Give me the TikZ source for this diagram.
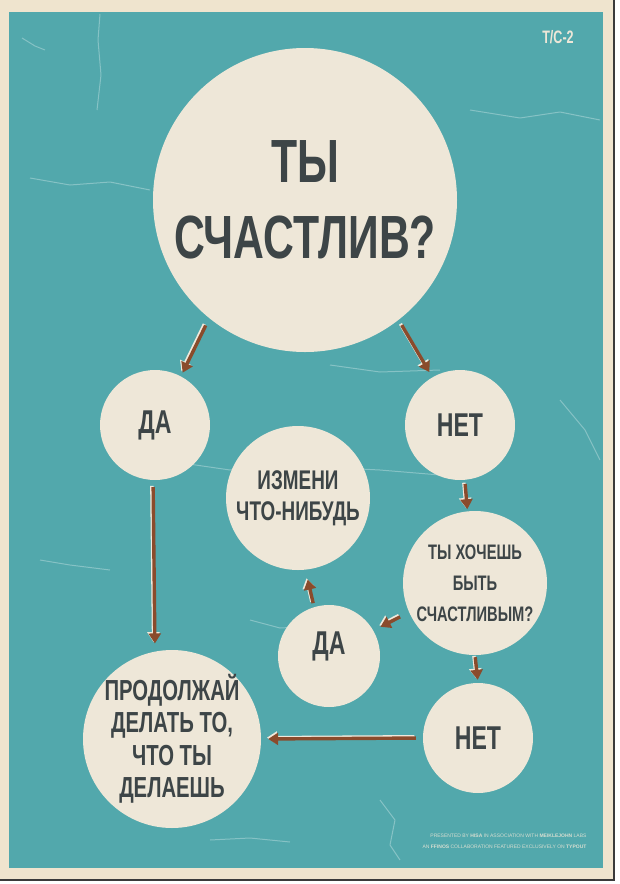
\documentclass[tikz,border=0pt]{standalone}
\usepackage{fontspec}
\setmainfont{Liberation Sans}
\newfontfamily\cond[FakeStretch=0.7]{Liberation Sans}
\usetikzlibrary{arrows.meta}
\definecolor{tealbg}{HTML}{52A8AC}
\definecolor{cream}{HTML}{EEE7D8}
\definecolor{paper}{HTML}{EFE4CE}
\definecolor{ink}{HTML}{3D4547}
\definecolor{rust}{HTML}{8A4B2C}
\definecolor{edge}{HTML}{3A3A3A}
\tikzset{
  bub/.style={circle, fill=cream, draw=none, inner sep=0pt},
  txt/.style={text=ink, align=center, inner sep=0pt},
  arr/.style={draw=rust, line width=3.4pt, -{Triangle[length=10pt,width=12pt]},
    preaction={draw=cream!90!white, line width=3.4pt, transform canvas={shift={(-1.3pt,1.3pt)}}}},
  crack/.style={draw=white, opacity=0.3, line width=1pt, line join=round},
}
\begin{document}
\begin{tikzpicture}[x=1pt,y=-1pt]
\useasboundingbox (0,0) rectangle (620,884);
\fill[white] (0,0) rectangle (620,884);
\fill[paper] (0,0) rectangle (614,879);
\draw[edge, line width=2pt] (614,0) -- (614,880) -- (0,880);
\fill[tealbg] (9,12) rectangle (603,868);

% faint cracks in the paper
\draw[crack] (100,14) -- (98,40) -- (101,75) -- (97,110);
\draw[crack] (22,38) -- (35,46) -- (45,50);
\draw[crack] (30,178) -- (70,185) -- (110,182) -- (150,190);
\draw[crack] (470,110) -- (520,118) -- (560,112) -- (600,120);
\draw[crack] (175,462) -- (230,470) -- (300,466) -- (380,470) -- (440,475);
\draw[crack] (40,560) -- (70,565) -- (110,570);
\draw[crack] (250,620) -- (280,628) -- (320,626);
\draw[crack] (330,365) -- (380,372) -- (440,370);
\draw[crack] (380,800) -- (395,820) -- (390,845) -- (400,860);
\draw[crack] (210,840) -- (250,838) -- (290,842);
\draw[crack] (560,400) -- (585,430) -- (600,460);

% circles
\node[bub, minimum size=304pt] (big) at (305,200) {};
\node[bub, minimum size=110pt] (da) at (155,425) {};
\node[bub, minimum size=110pt] (net1) at (460,425) {};
\node[bub, minimum size=144pt] (izm) at (298,498) {};
\node[bub, minimum size=144pt] (hoch) at (475,583) {};
\node[bub, minimum size=102pt] (da2) at (329,656) {};
\node[bub, minimum size=110pt] (net2) at (478,738) {};
\node[bub, minimum size=178pt] (prod) at (172,739) {};

% texts
\node[txt, font=\cond\bfseries\fontsize{61}{76}\selectfont] at (big) {ТЫ\\СЧАСТЛИВ?};
\node[txt, font=\cond\bfseries\fontsize{33}{36}\selectfont] at (da) {ДА};
\node[txt, font=\cond\bfseries\fontsize{33}{36}\selectfont] at (net1) {НЕТ};
\node[txt, font=\cond\bfseries\fontsize{27}{31}\selectfont] at (izm) {ИЗМЕНИ\\ЧТО-НИБУДЬ};
\node[txt, font=\cond\bfseries\fontsize{21}{31}\selectfont] at (hoch) {ТЫ ХОЧЕШЬ\\БЫТЬ\\СЧАСТЛИВЫМ?};
\node[txt, font=\cond\bfseries\fontsize{33}{36}\selectfont] at ([yshift=10pt]da2) {ДА};
\node[txt, font=\cond\bfseries\fontsize{33}{36}\selectfont] at (net2) {НЕТ};
\node[txt, font=\cond\bfseries\fontsize{29}{32.5}\selectfont] at (prod) {ПРОДОЛЖАЙ\\ДЕЛАТЬ ТО,\\ЧТО ТЫ\\ДЕЛАЕШЬ};

% arrows
\draw[arr, shorten <=8pt, shorten >=4pt] (big.231) -- (da.62);
\draw[arr, shorten <=6pt, shorten >=6pt] (big.308) -- (net1.120);
\draw[arr, shorten <=7pt, shorten >=8pt] (da.268) -- (prod.101);
\draw[arr, shorten <=4pt, shorten >=2pt] (net1.275) -- (hoch.96);
\draw[arr, shorten <=10pt, shorten >=8pt] (hoch.204) -- (da2.30);
\draw[arr, shorten <=4pt, shorten >=10pt] (da2.107) -- (izm.276);
\draw[arr, shorten <=2pt, shorten >=3pt] (hoch.270) -- (net2.90);
\draw[arr, shorten <=7pt, shorten >=7pt] (net2.180) -- (prod.0);

% labels
\node[text=cream, font=\cond\bfseries\fontsize{18}{20}\selectfont, anchor=center] (tc) at (558,37) {T/C-2};
\node[text=cream!85!tealbg, font=\fontsize{5}{6}\selectfont, anchor=east] (cr1) at (590,836) {PRESENTED BY \textbf{HISA} IN ASSOCIATION WITH \textbf{MEIKLEJOHN} LABS};
\node[text=cream!85!tealbg, font=\fontsize{5}{6}\selectfont, anchor=east] (cr2) at (590,847) {AN \textbf{FFINOS} COLLABORATION FEATURED EXCLUSIVELY ON \textbf{TYPOUT}};
\end{tikzpicture}
\end{document}
